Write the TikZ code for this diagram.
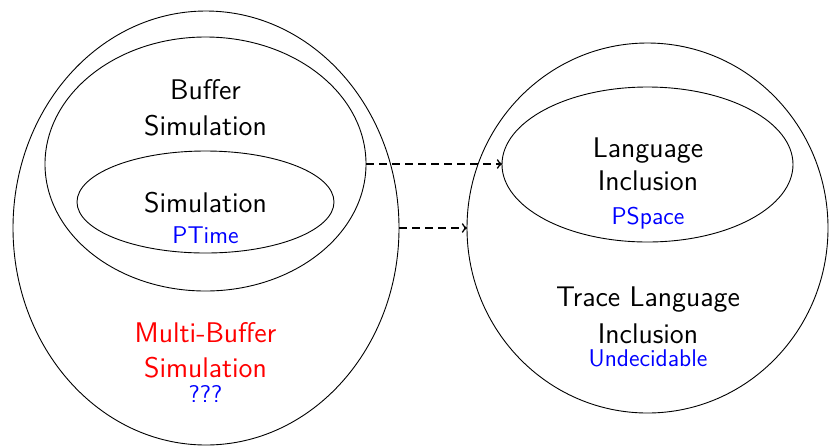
\documentclass[tikz,border=0pt]{standalone}
\usetikzlibrary{shapes.geometric}
\begin{document}
\begin{tikzpicture}[x=0.5pt,y=-0.5pt,
  region/.style={draw, ellipse, inner sep=0pt, outer sep=0pt, line width=0.45pt},
  maintext/.style={font=\fontsize{14.2}{17}\sffamily, anchor=base, inner sep=0pt},
  subtext/.style={font=\fontsize{12.1}{14}\sffamily, anchor=base, inner sep=0pt, text=blue},
  impl/.style={->, line width=0.8pt, dash pattern=on 4pt off 2.5pt}]
\useasboundingbox (0,0) rectangle (829,446);
% regions
\node[region, minimum width=193pt, minimum height=217pt] (mb) at (206,228) {};
\node[region, minimum width=160.5pt, minimum height=127pt] (bs) at (205.5,164) {};
\node[region, minimum width=128.5pt, minimum height=51pt] (sim) at (205.5,202) {};
\node[region, minimum width=180.5pt, minimum height=185pt] (tli) at (647.5,228) {};
\node[region, minimum width=145.5pt, minimum height=77.5pt] (li) at (647.5,164.5) {};
% labels left
\node[maintext] (bsa) at (205.5,99) {Buffer};
\node[maintext] (bsb) at (205.5,135) {Simulation};
\node[maintext] (sima) at (205.5,212) {Simulation};
\node[subtext] (simb) at (205.5,243) {PTime};
\node[maintext, text=red] (mba) at (205.5,342) {Multi-Buffer};
\node[maintext, text=red] (mbb) at (205.5,377) {Simulation};
\node[subtext] (mbc) at (205.5,402) {???};
% labels right
\node[maintext] (lia) at (648,157) {Language};
\node[maintext] (lib) at (648,190) {Inclusion};
\node[subtext] (lic) at (648,224) {PSpace};
\node[maintext] (tlia) at (648,306) {Trace Language};
\node[maintext] (tlib) at (648,343) {Inclusion};
\node[subtext] (tlic) at (648,366) {Undecidable};
% implications
\draw[impl] (bs.east) -- (bs.east -| li.west);
\draw[impl] (mb.east) -- (mb.east -| tli.west);
\end{tikzpicture}
\end{document}
